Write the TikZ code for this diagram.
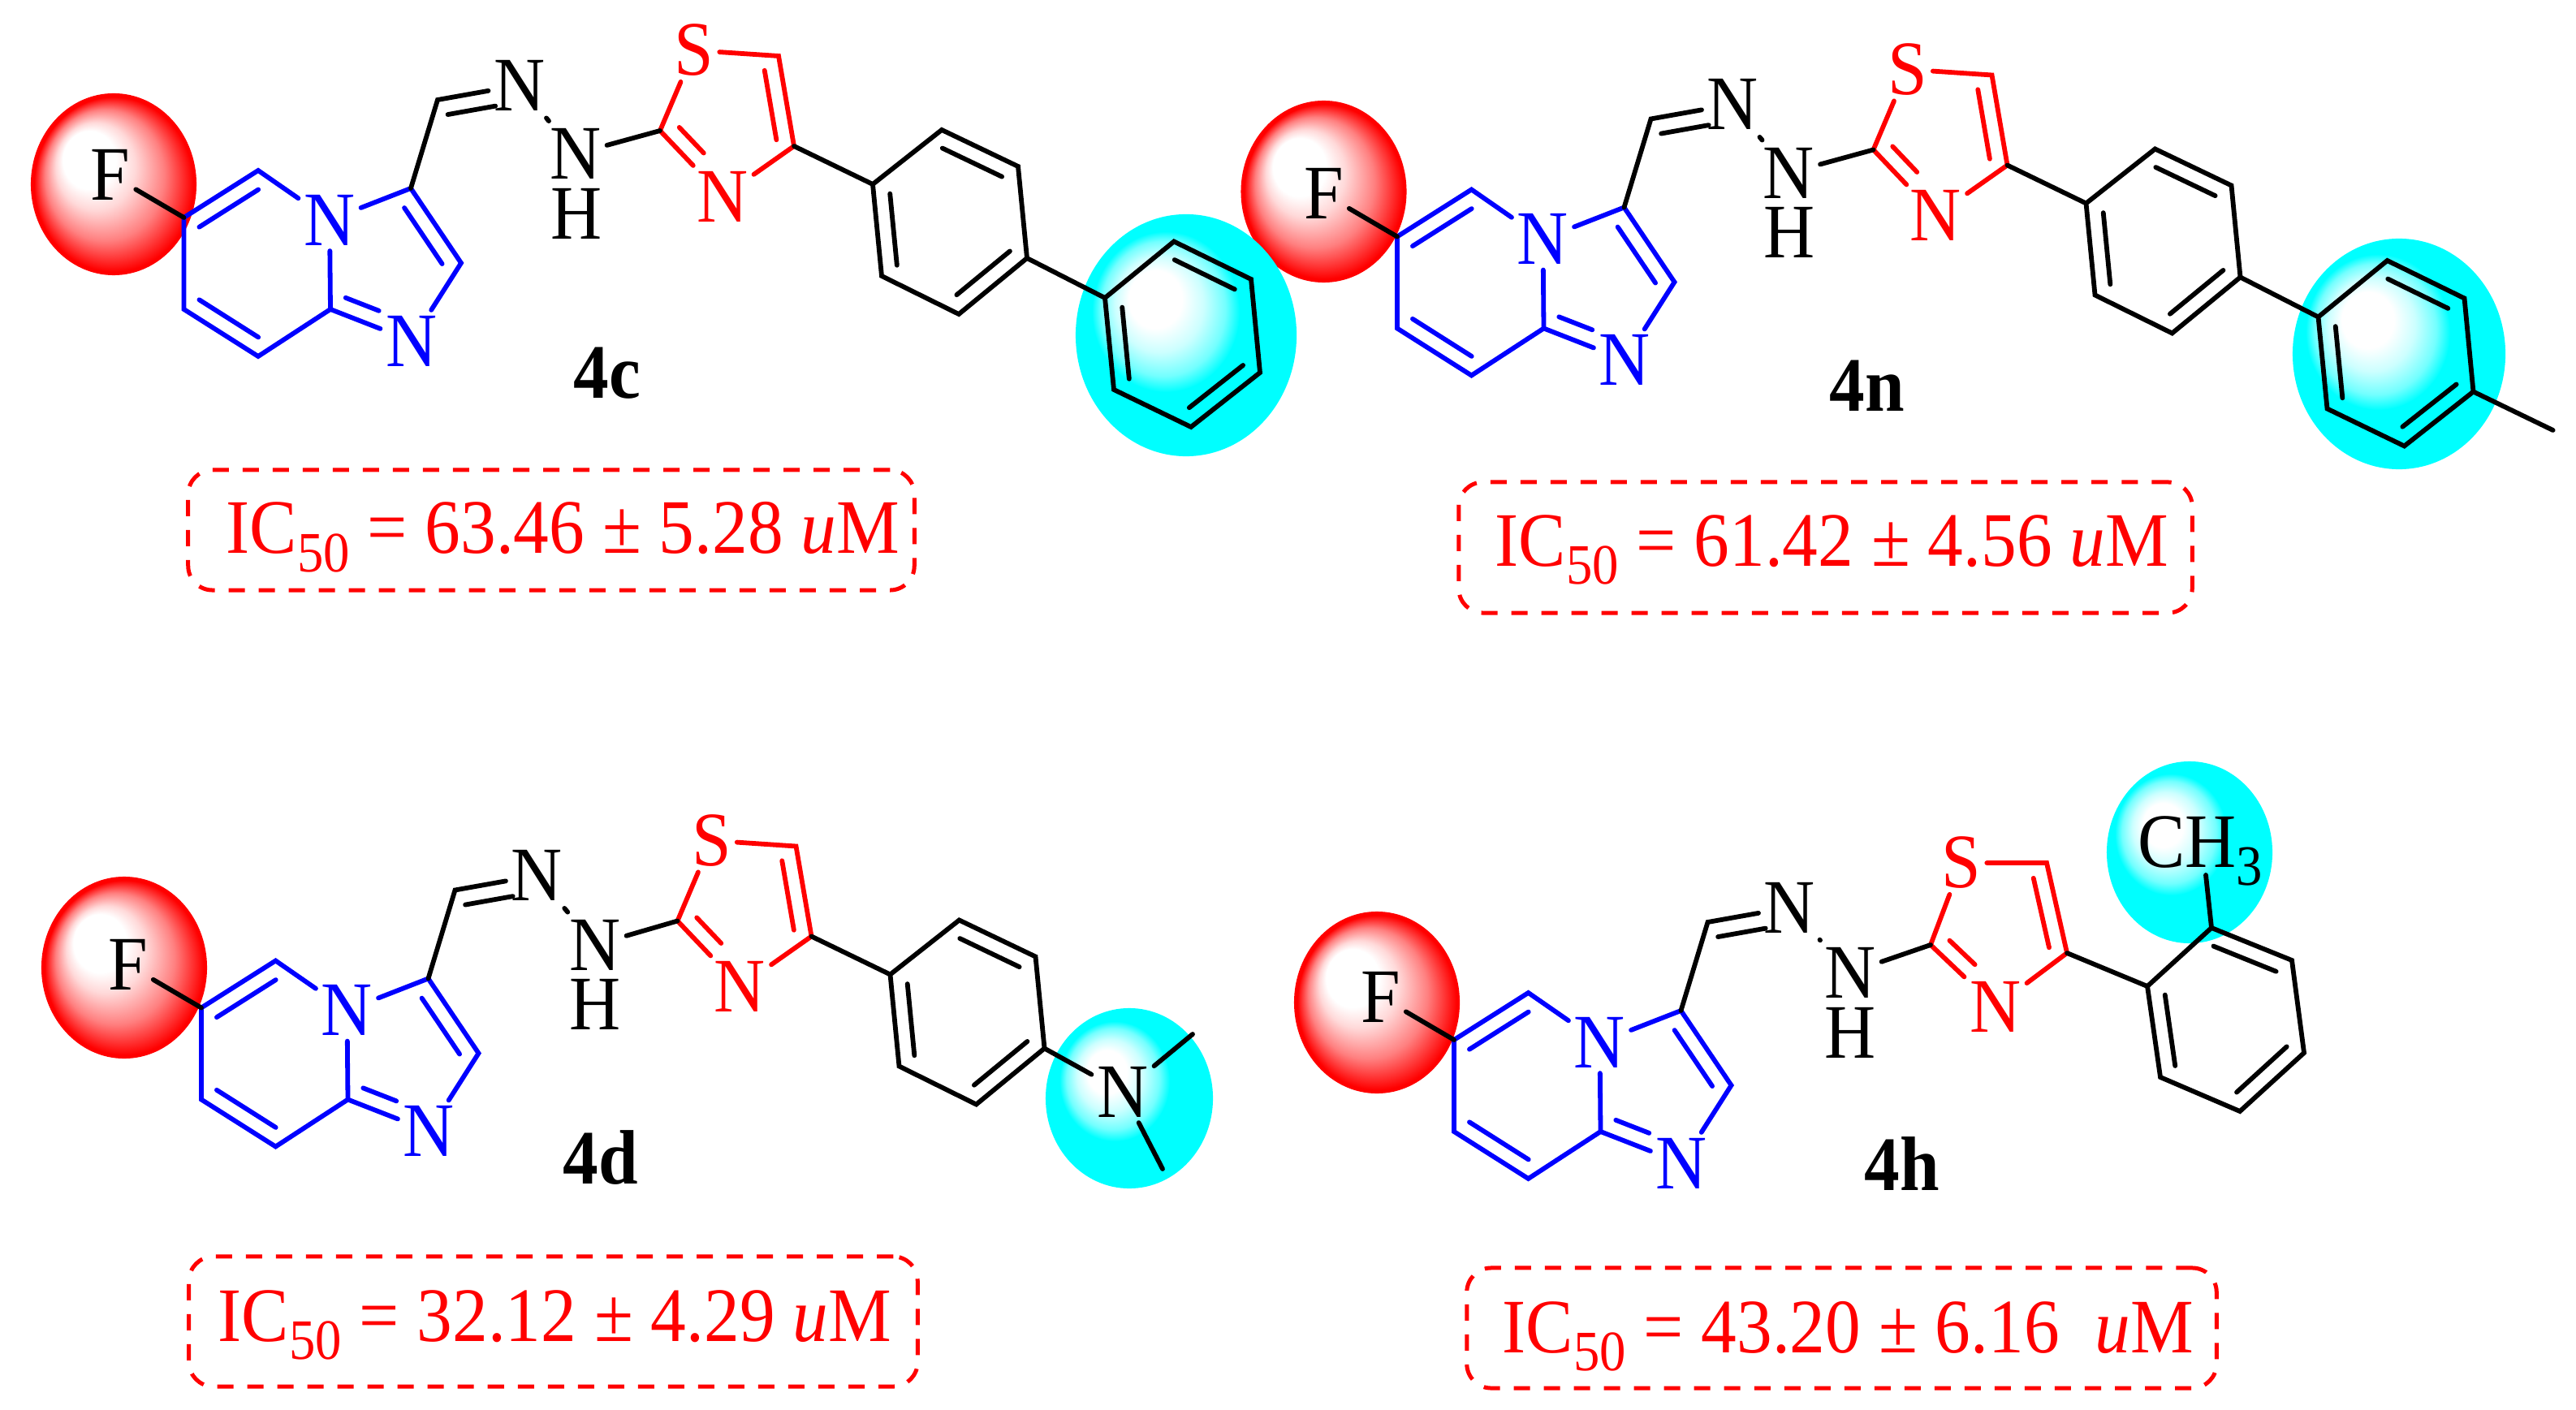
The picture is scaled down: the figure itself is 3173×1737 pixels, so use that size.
\documentclass[tikz,border=0pt]{standalone}
\usepackage{fontspec}
\setmainfont[FakeStretch=0.92]{Liberation Serif}
\usetikzlibrary{calc}
\definecolor{rd}{RGB}{255,0,0}
\definecolor{bl}{RGB}{0,0,255}
\definecolor{cy}{RGB}{0,255,255}
\pgfdeclareradialshading{redballsh}{\pgfpoint{-11bp}{10bp}}{color(0bp)=(white); color(8bp)=(white); color(12bp)=(rd!15!white); color(18bp)=(rd!50!white); color(24bp)=(rd)}
\pgfdeclareradialshading{cyanballsh}{\pgfpoint{-5.5bp}{6bp}}{color(0bp)=(white); color(9bp)=(white); color(15bp)=(cy!20!white); color(21bp)=(cy!55!white); color(25bp)=(cy)}
\tikzset{
  atom/.style={font={\fontsize{27}{27}\selectfont},inner sep=0.07cm,outer sep=0pt},
  cmpd/.style={font={\fontsize{27}{27}\selectfont\bfseries},inner sep=0pt},
  bondln/.style={line width=0.058cm,line join=miter,line cap=round},
  icbox/.style={draw=rd,line width=0.05cm,dash pattern=on 0.2cm off 0.17cm,rounded corners=0.3cm,inner sep=0pt},
  ictext/.style={font={\fontsize{27}{27}\selectfont},text=rd,anchor=base west,inner sep=0pt}
}
% inner line of a double bond, on the right-hand side of a -> b
\newcommand\dbl[5][black]{\draw[bondln,#1] ($(#2)!#4!(#3)!0.2cm!-90:(#3)$) -- ($(#2)!#5!(#3)!0.2cm!-90:(#3)$);}
\newcommand\redsph[2]{\fill[rd] (#1,#2) ellipse [x radius=1.02cm,y radius=1.12cm];
  \shade[shading=redballsh] (#1,#2) ellipse [x radius=1.02cm,y radius=1.12cm];}
\newcommand\cyansph[8]{\fill[cy] (#1,#2) ellipse [x radius=#3cm,y radius=#4cm];
  \shade[shading=cyanballsh] (#5,#6) ellipse [x radius=#7cm,y radius=#8cm];}
% fused bicycle, F, CH=N
\newcommand\molcore[3]{%
\begin{scope}[shift={(#2,#3)}]
  \coordinate (#1c6) at (226.5,268);
  \coordinate (#1c5) at (318,210);
  \coordinate (#1c8a) at (407,381);
  \coordinate (#1c8) at (318,439);
  \coordinate (#1c7) at (226.5,381);
  \coordinate (#1c3) at (506,232);
  \coordinate (#1c2) at (568,324);
  \coordinate (#1ch) at (539,123);
  \node[atom,text=bl] (#1n1) at (406,271) {N};
  \node[atom,text=bl] (#1n3) at (507,420) {N};
  \node[atom] (#1f) at (136,215) {F};
  \node[atom] (#1ni) at (640,105) {N};
\end{scope}
  \draw[bondln,bl] (#1n1) -- (#1c5) -- (#1c6) -- (#1c7) -- (#1c8) -- (#1c8a) -- (#1n1);
  \draw[bondln,bl] (#1n1) -- (#1c3) -- (#1c2) -- (#1n3) -- (#1c8a);
  \dbl[bl]{#1c6}{#1c5}{.09}{.885}
  \dbl[bl]{#1c8}{#1c7}{.115}{.91}
  \dbl[bl]{#1c3}{#1c2}{.14}{.89}
  \dbl[bl]{#1n3}{#1c8a}{.475}{.885}
  \draw[bondln] (#1f) -- (#1c6);
  \draw[bondln] (#1c3) -- (#1ch) -- (#1ni);
  \dbl{#1ch}{#1ni}{.09}{.67}
}
% N-H: prefix, N position, H position
\newcommand\nhpart[3]{%
  \node[atom] (#1nh) at (#2) {N};
  \node[atom] (#1h) at (#3) {H};
  \draw[bondln,shorten >=0.03cm,shorten <=0.03cm] (#1ni) -- (#1nh);
}
% thiazole: prefix, C2, S, C5, C4, N
\newcommand\thz[6]{%
  \coordinate (#1tc2) at (#2);
  \node[atom,text=rd] (#1ts) at (#3) {S};
  \coordinate (#1tc5) at (#4);
  \coordinate (#1tc4) at (#5);
  \node[atom,text=rd] (#1tn) at (#6) {N};
  \draw[bondln,rd] (#1tc2) -- (#1ts) -- (#1tc5) -- (#1tc4) -- (#1tn) -- (#1tc2);
  \dbl[rd]{#1tc5}{#1tc4}{.13}{.9}
  \dbl[rd]{#1tn}{#1tc2}{.49}{.88}
  \draw[bondln] (#1nh) -- (#1tc2);
}
% benzene ring, clockwise from the attachment carbon
\newcommand\phen[7]{%
  \coordinate (#1a) at (#2);
  \coordinate (#1b) at (#3);
  \coordinate (#1c) at (#4);
  \coordinate (#1d) at (#5);
  \coordinate (#1e) at (#6);
  \coordinate (#1f) at (#7);
  \draw[bondln] (#1a) -- (#1b) -- (#1c) -- (#1d) -- (#1e) -- (#1f) -- cycle;
  \dbl{#1b}{#1c}{.1}{.88}
  \dbl{#1d}{#1e}{.1}{.88}
  \dbl{#1f}{#1a}{.1}{.88}
}
\newcommand\ictxt[1]{IC\raisebox{-0.22cm}{\fontsize{20}{20}\selectfont 50} = #1 \textit{u}M}
\begin{document}
\begin{tikzpicture}[x=0.01cm,y=-0.01cm]
\fill[white] (0,0) rectangle (3173,1737);
\useasboundingbox (0,0) rectangle (3173,1737);
% ---------- highlight ellipses of the upper row
\redsph{140}{227}
\redsph{1630.5}{236}
\cyansph{1461}{413}{1.36}{1.49}{1436}{384}{.91}{.99}
\cyansph{2955}{436}{1.31}{1.42}{2929}{409}{.89}{.96}
% ---------- 4c
\molcore{A}{0}{0}
\nhpart{A}{709,189.5}{710,263}
\thz{A}{813,161}{855,62}{959,69}{978,180}{890,242}
\phen{Ap}{1075,227}{1160,160}{1254,205}{1265,318}{1181,387}{1086,340}
\phen{Aq}{1361,367}{1446,297.5}{1541,344}{1552,459}{1467,526}{1372,480}
\draw[bondln] (Atc4) -- (Apa);
\draw[bondln] (Apd) -- (Aqa);
\node[cmpd] (Alab) at (748,460) {4c};
\node[icbox,minimum width=8.94cm,minimum height=1.48cm] (Abox) at (679,653) {};
\node[ictext] (Aic) at (278,682) {\ictxt{63.46 ± 5.28}};
% ---------- 4n
\molcore{B}{1494.5}{23.5}
\nhpart{B}{2203.5,213}{2204.5,286.5}
\thz{B}{2307.5,184.5}{2349.5,85.5}{2453.5,92.5}{2472.5,203.5}{2384.5,265.5}
\phen{Bp}{2569.5,250.5}{2654.5,183.5}{2748.5,228.5}{2759.5,341.5}{2675.5,410.5}{2580.5,363.5}
\phen{Bq}{2855.5,390.5}{2940.5,321}{3035.5,367.5}{3046.5,482.5}{2961.5,549.5}{2866.5,503.5}
\draw[bondln] (Btc4) -- (Bpa);
\draw[bondln] (Bpd) -- (Bqa);
\coordinate (Bme) at (3144.6,530);
\draw[bondln] (Bqd) -- (Bme);
\node[cmpd] (Blab) at (2300,475) {4n};
\node[icbox,minimum width=9.03cm,minimum height=1.61cm] (Bbox) at (2248.5,674.5) {};
\node[ictext] (Bic) at (1841,697) {\ictxt{61.42 ± 4.56}};
% ---------- 4d
\redsph{153}{1192}
\cyansph{1391}{1353}{1.03}{1.11}{1373}{1332}{.68}{.74}
\molcore{C}{21.5}{973.5}
\nhpart{C}{733,1164}{733,1237}
\thz{C}{834.5,1134.5}{876.5,1035.5}{980.5,1042.5}{999.5,1153.5}{911.5,1215.5}
\phen{Cp}{1096.5,1200.5}{1181.5,1133.5}{1275.5,1178.5}{1286.5,1291.5}{1202.5,1360.5}{1107.5,1313.5}
\draw[bondln] (Ctc4) -- (Cpa);
\node[atom] (Cna) at (1383,1345) {N};
\coordinate (Cm1) at (1469,1274);
\coordinate (Cm2) at (1432,1440);
\draw[bondln] (Cpd) -- (Cna);
\draw[bondln] (Cna) -- (Cm1);
\draw[bondln] (Cna) -- (Cm2);
\node[cmpd] (Clab) at (740,1426) {4d};
\node[icbox,minimum width=8.97cm,minimum height=1.60cm] (Cbox) at (681.5,1628) {};
\node[ictext] (Cic) at (268,1652) {\ictxt{32.12 ± 4.29}};
% ---------- 4h
\redsph{1696}{1235}
\cyansph{2697}{1050}{1.02}{1.12}{2674}{1028}{.69}{.75}
\molcore{D}{1564.5}{1013}
\nhpart{D}{2279,1198}{2279,1272}
\thz{D}{2378,1164}{2416,1063}{2521,1063}{2546,1174}{2458,1240}
\phen{Dp}{2645,1215}{2724,1143}{2823,1183}{2838,1297}{2759,1369}{2661,1327}
\draw[bondln] (Dtc4) -- (Dpa);
\node[atom,anchor=base west] (Dch) at (2626,1068) {CH\rlap{\raisebox{-0.22cm}{\fontsize{20}{20}\selectfont 3}}};
\coordinate (Dme) at (2717,1078);
\draw[bondln] (Dpb) -- (Dme);
\node[cmpd] (Dlab) at (2343,1434) {4h};
\node[icbox,minimum width=9.23cm,minimum height=1.48cm] (Dbox) at (2268.5,1636) {};
\node[ictext] (Dic) at (1850,1666) {\ictxt{43.20 ± 6.16\ }};
\end{tikzpicture}
\end{document}
